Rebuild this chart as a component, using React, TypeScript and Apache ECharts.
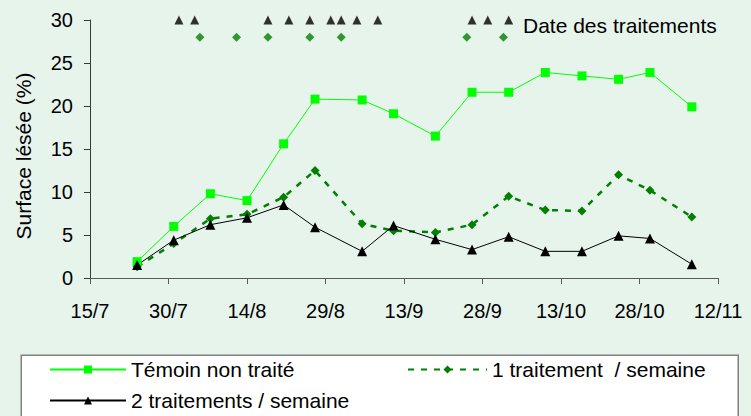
import React, { useEffect, useRef } from 'react';
import * as echarts from 'echarts';

const tickLabels = ['15/7', '30/7', '14/8', '29/8', '13/9', '28/9', '13/10', '28/10', '12/11'];
const sampleDates = ['24/7', '31/7', '7/8', '14/8', '21/8', '27/8', '5/9', '11/9', '19/9', '26/9', '3/10', '10/10', '17/10', '24/10', '30/10', '7/11'];
const temoin = [1.9, 6.0, 9.8, 9.0, 15.6, 20.8, 20.7, 19.1, 16.5, 21.6, 21.6, 23.9, 23.5, 23.1, 23.9, 19.9];
const unTraitement = [1.3, 4.0, 6.9, 7.4, 9.4, 12.5, 6.3, 5.5, 5.3, 6.2, 9.5, 7.9, 7.8, 12.0, 10.2, 7.1];
const deuxTraitements = [1.5, 4.4, 6.2, 7.0, 8.5, 5.9, 3.1, 6.1, 4.5, 3.3, 4.8, 3.1, 3.1, 4.9, 4.6, 1.6];
const traitDates2 = ['1/8', '4/8', '18/8', '22/8', '26/8', '30/8', '1/9', '4/9', '8/9', '26/9', '29/9', '3/10'];
const traitDates1 = ['5/8', '12/8', '18/8', '26/8', '1/9', '25/9', '2/10'];
const markerLevel2 = 30;
const markerLevel1 = 28;
const seriesNames = ['Témoin non traité', '1 traitement  / semaine', '2 traitements / semaine'];
const yTitle = 'Surface lésée (%)';
const markerTitle = 'Date des traitements';

const ORIGIN = '15/7';
const DAY = 86400000;
function dayOf(s: string): number {
  const [d, m] = s.split('/').map(Number);
  const [d0, m0] = ORIGIN.split('/').map(Number);
  return (Date.UTC(2001, m - 1, d) - Date.UTC(2001, m0 - 1, d0)) / DAY;
}

const FONT = "'Liberation Sans', Arial, sans-serif";

export default function App() {
  const ref = useRef<HTMLDivElement>(null);
  useEffect(() => {
    if (!ref.current) return;
    const chart = echarts.init(ref.current, undefined, { renderer: 'svg' });
    const pts = (dates: string[], vals: number[]) => dates.map((d, i) => [dayOf(d), vals[i]]);
    const legendText = { fontSize: 21, color: '#000', fontFamily: FONT };
    chart.setOption({
      animation: false,
      backgroundColor: '#e7f4ec',
      textStyle: { fontFamily: FONT },
      grid: { left: 90, right: 33, top: 20, bottom: 138, containLabel: false },
      xAxis: {
        type: 'value',
        min: 0,
        max: 120,
        interval: 15,
        splitLine: { show: false },
        axisLine: { show: true, onZero: false, lineStyle: { color: '#5a5a5a', width: 1 } },
        axisTick: { show: true, inside: false, length: 6, lineStyle: { color: '#5a5a5a' } },
        axisLabel: {
          fontSize: 20,
          color: '#000',
          margin: 23,
          formatter: (v: number) => tickLabels[Math.round(v / 15)] ?? '',
        },
      },
      yAxis: {
        type: 'value',
        min: 0,
        max: 30,
        interval: 5,
        splitLine: { show: false },
        axisLine: { show: true, lineStyle: { color: '#3a3a3a', width: 1 } },
        axisTick: { show: true, inside: false, length: 6, lineStyle: { color: '#3a3a3a' } },
        axisLabel: { fontSize: 20, color: '#000', margin: 17 },
      },
      legend: [
        {
          data: [seriesNames[0]],
          left: 49,
          top: 359,
          padding: 0,
          itemWidth: 76,
          itemHeight: 10,
          textStyle: legendText,
          selectedMode: false,
        },
        {
          data: [seriesNames[1]],
          left: 407,
          top: 359,
          padding: 0,
          itemWidth: 79,
          itemHeight: 10,
          textStyle: legendText,
          selectedMode: false,
        },
        {
          data: [seriesNames[2]],
          left: 49,
          top: 390,
          padding: 0,
          itemWidth: 76,
          itemHeight: 10,
          textStyle: legendText,
          selectedMode: false,
        },
      ],
      graphic: [
        {
          type: 'rect',
          left: 20.5,
          top: 354.5,
          z: -1,
          shape: { width: 717, height: 80 },
          style: { fill: '#ffffff', stroke: '#808080', lineWidth: 1.5 },
        },
        {
          type: 'text',
          left: 523,
          top: 15,
          style: { text: markerTitle, fontSize: 21, fill: '#000', fontFamily: FONT },
        },
        {
          type: 'text',
          x: 23,
          y: 156,
          rotation: Math.PI / 2,
          style: {
            text: yTitle,
            x: 0,
            y: 0,
            align: 'center',
            verticalAlign: 'middle',
            fontSize: 21,
            fill: '#000',
            fontFamily: FONT,
          },
        },
      ],
      series: [
        {
          name: seriesNames[0],
          type: 'line',
          data: pts(sampleDates, temoin),
          symbol: 'rect',
          symbolSize: 9,
          itemStyle: { color: '#00ff00' },
          lineStyle: { color: '#00ff00', width: 1 },
        },
        {
          name: seriesNames[1],
          type: 'line',
          data: pts(sampleDates, unTraitement),
          symbol: 'diamond',
          symbolSize: 9,
          itemStyle: { color: '#008000' },
          lineStyle: { color: '#008000', width: 2.5, type: [6, 7] },
        },
        {
          name: seriesNames[2],
          type: 'line',
          data: pts(sampleDates, deuxTraitements),
          symbol: 'triangle',
          symbolSize: 10,
          itemStyle: { color: '#000000' },
          lineStyle: { color: '#000000', width: 1 },
        },
        {
          name: 'traitements2',
          type: 'scatter',
          data: traitDates2.map((d) => [dayOf(d), markerLevel2]),
          symbol: 'triangle',
          symbolSize: 9,
          itemStyle: { color: '#000000' },
        },
        {
          name: 'traitements1',
          type: 'scatter',
          data: traitDates1.map((d) => [dayOf(d), markerLevel1]),
          symbol: 'diamond',
          symbolSize: 9,
          itemStyle: { color: '#008000' },
        },
      ],
    });
    return () => chart.dispose();
  }, []);
  return (
    <div
      ref={ref}
      style={{ position: 'absolute', left: 0, top: 0, width: 751, height: 416 }}
    />
  );
}
